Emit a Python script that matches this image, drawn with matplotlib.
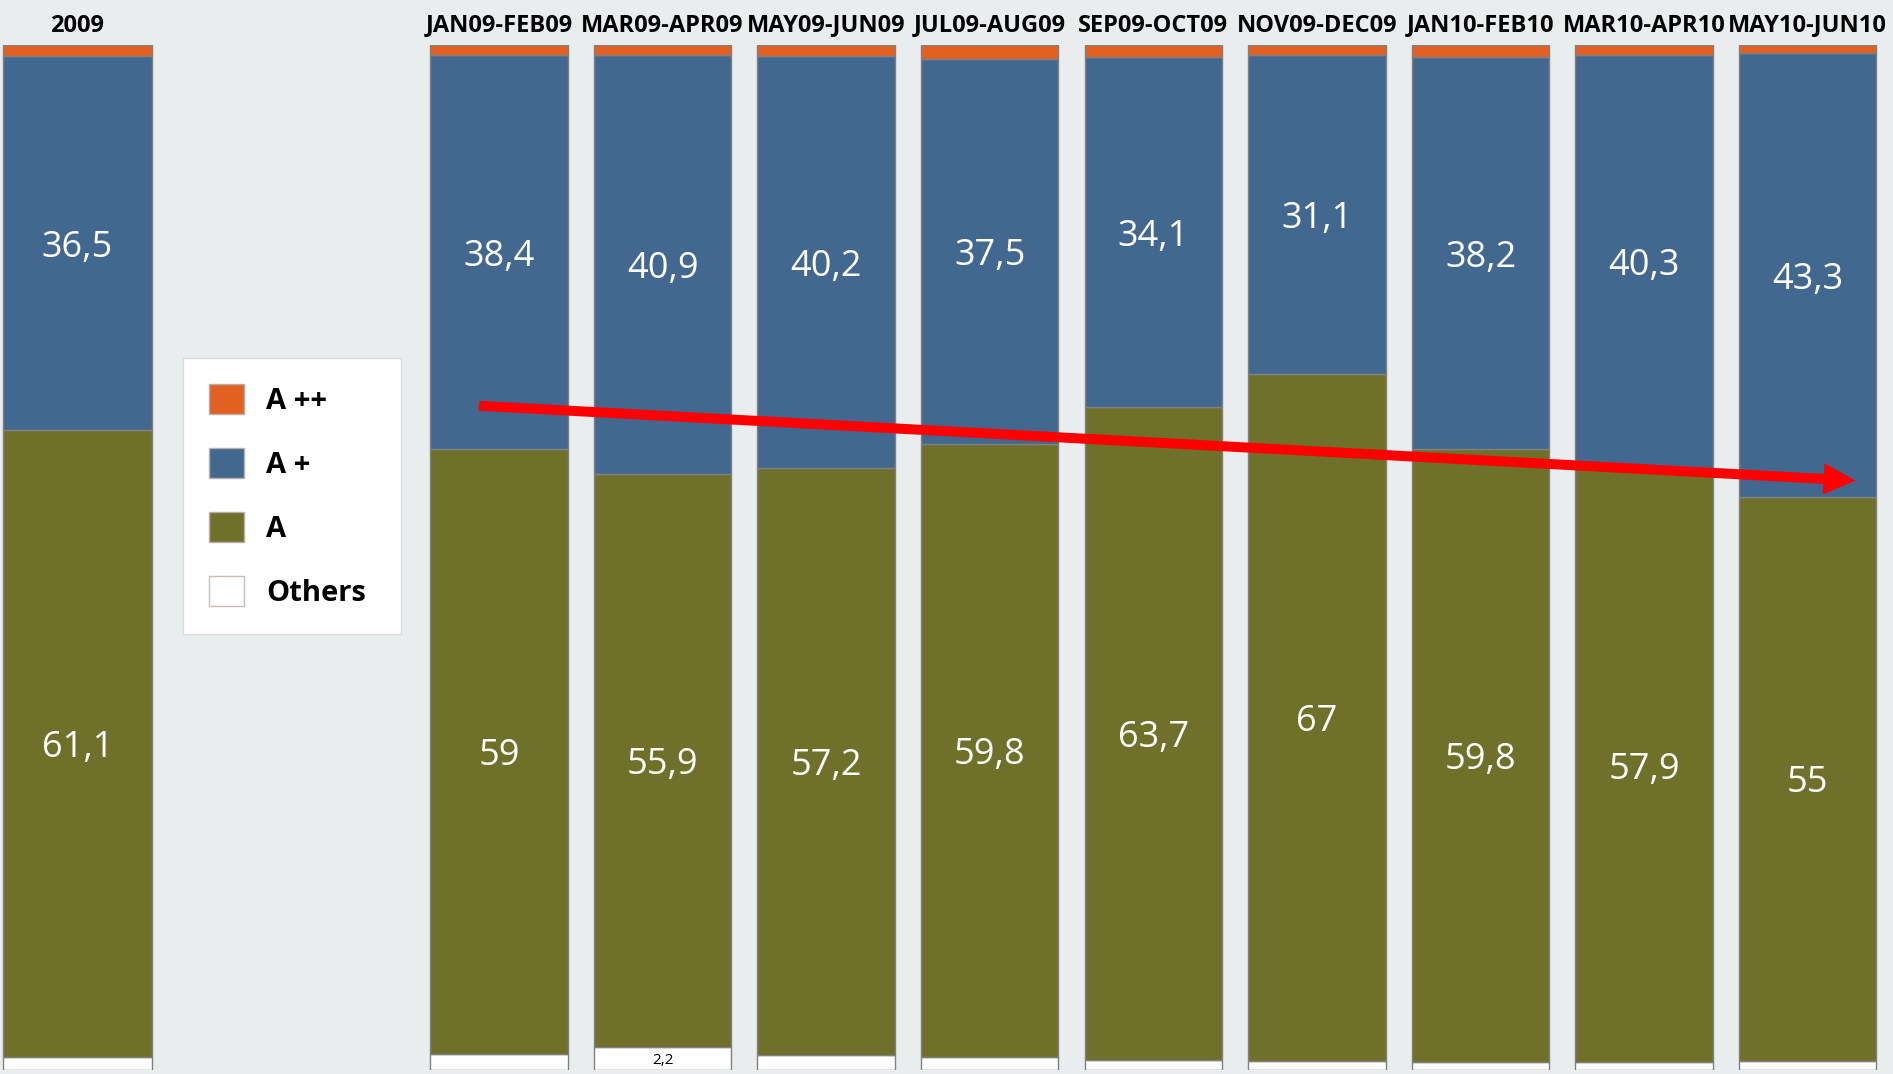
import matplotlib
matplotlib.use("Agg")
import matplotlib.pyplot as plt
from matplotlib.patches import Patch

plt.rcParams['font.family'] = ['Open Sans', 'DejaVu Sans']

# share of each energy class per period, in %
periods = ["2009", "JAN09-FEB09", "MAR09-APR09", "MAY09-JUN09", "JUL09-AUG09",
           "SEP09-OCT09", "NOV09-DEC09", "JAN10-FEB10", "MAR10-APR10",
           "MAY10-JUN10"]
others = [1.3, 1.6, 2.2, 1.5, 1.3, 1.0, 0.9, 0.8, 0.8, 0.9]
class_a = [61.1, 59, 55.9, 57.2, 59.8, 63.7, 67, 59.8, 57.9, 55]
class_a_plus = [36.5, 38.4, 40.9, 40.2, 37.5, 34.1, 31.1, 38.2, 40.3, 43.3]
class_a_pp = [1.1, 1.0, 1.0, 1.1, 1.4, 1.2, 1.0, 1.2, 1.0, 0.8]

bg = '#e9eded'
col_pp = '#e16022'
col_p = '#42688f'
col_a = '#6f7029'
col_o = '#ffffff'
edge = '#808080'

# the yearly bar sits apart from the bimonthly ones
xpos = [-2.576] + list(range(len(periods) - 1))
widths = [0.91] + [0.84] * (len(periods) - 1)


def fmt(v):
    return f"{v:g}".replace('.', ',')


fig = plt.figure(figsize=(18.93, 10.74), dpi=100, facecolor=bg)
ax = fig.add_axes([0, 4 / 1074, 1, 1025 / 1074])
ax.set_facecolor(bg)

bottom = [0.0] * len(periods)
for vals, col in [(others, col_o), (class_a, col_a), (class_a_plus, col_p), (class_a_pp, col_pp)]:
    ax.bar(xpos, vals, width=widths, bottom=bottom, color=col,
           edgecolor=edge, linewidth=1.0)
    for i, v in enumerate(vals):
        mid = bottom[i] + v / 2
        if vals is class_a or vals is class_a_plus:
            ax.text(xpos[i], mid, fmt(v), ha='center', va='center_baseline',
                    color='white', fontsize=26)
        elif vals is others and v >= 2:
            ax.text(xpos[i], mid, fmt(v), ha='center', va='center_baseline',
                    color='black', fontsize=11)
    bottom = [b + v for b, v in zip(bottom, vals)]

for x, name in zip(xpos, periods):
    ax.text(x, 101.9, name, ha='center', va='center', fontsize=17,
            fontweight='bold', color='black')

# trend arrow across the A+ / A boundary
ax.annotate('', xy=(8.292, 57.5), xytext=(-0.122, 64.8),
            arrowprops=dict(arrowstyle='simple,head_length=2.3,head_width=2.25,tail_width=0.72',
                            mutation_scale=10, fc='#ff0000', ec='none', lw=0,
                            shrinkA=0, shrinkB=0))

ax.set_xlim(-3.050, 8.521)
ax.set_ylim(0, 100)
ax.axis('off')

handles = [Patch(facecolor=col_pp, edgecolor='#b8b0a8', label='A ++'),
           Patch(facecolor=col_p, edgecolor='#b8b0a8', label='A +'),
           Patch(facecolor=col_a, edgecolor='#b8b0a8', label='A'),
           Patch(facecolor=col_o, edgecolor='#c8c0b8', label='Others')]
leg = fig.legend(handles=handles, loc='upper left', mode='expand',
                 bbox_to_anchor=(183 / 1893, 1 - 358 / 1074, 218 / 1893, 0),
                 borderaxespad=0,
                 prop=dict(family=['Open Sans', 'DejaVu Sans'], weight='bold', size=21),
                 handlelength=1.2, handleheight=1.2, handletextpad=0.75,
                 labelspacing=1.1, borderpad=0.9, fancybox=False,
                 framealpha=1, facecolor='white', edgecolor='#dcdcdc')
leg.get_frame().set_linewidth(1.0)

fig.savefig('out.png', dpi=100, facecolor=bg)
